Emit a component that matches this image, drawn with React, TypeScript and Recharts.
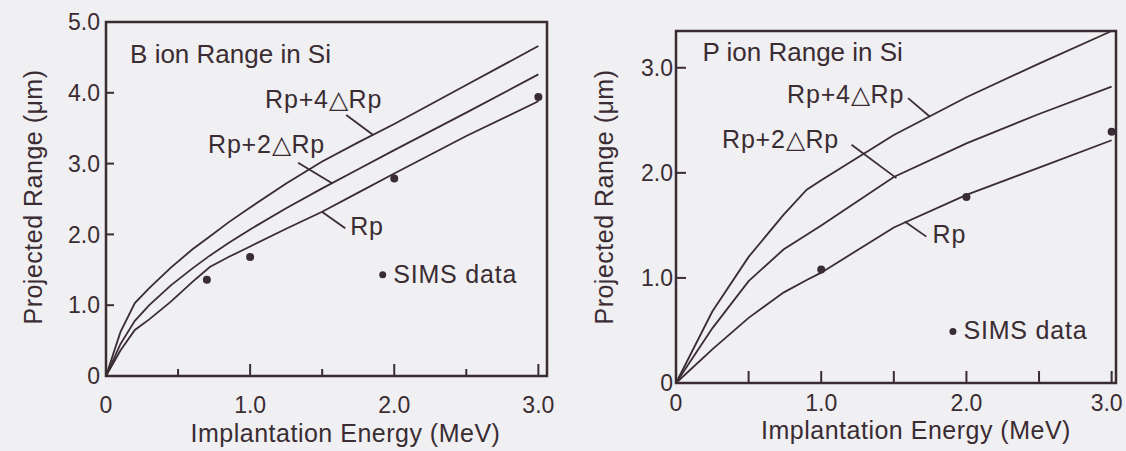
import React from "react";
import {
  ComposedChart,
  Line,
  Scatter,
  XAxis,
  YAxis,
  ReferenceArea,
  ReferenceLine,
  ReferenceDot,
} from "recharts";

const INK = "#3a2c33";
const BG = "#f0eff1";
const FONT = "'Liberation Sans', Arial, Helvetica, sans-serif";

// B ion range in Si
const bEnergy = [0, 0.1, 0.2, 0.3, 0.45, 0.6, 0.72, 0.85, 1.0, 1.25, 1.5, 1.75, 2.0, 2.5, 3.0];
const bRp = [0, 0.36, 0.65, 0.8, 1.05, 1.33, 1.54, 1.68, 1.83, 2.08, 2.32, 2.59, 2.86, 3.39, 3.88];
const bRp2 = [0, 0.45, 0.78, 1.0, 1.28, 1.52, 1.7, 1.88, 2.07, 2.37, 2.65, 2.92, 3.19, 3.72, 4.26];
const bRp4 = [0, 0.62, 1.03, 1.24, 1.53, 1.79, 1.97, 2.17, 2.38, 2.72, 3.03, 3.3, 3.56, 4.11, 4.66];
const bSimsEnergy = [0.7, 1.0, 2.0, 3.0];
const bSimsRange = [1.36, 1.68, 2.79, 3.94];

// P ion range in Si
const pEnergy = [0, 0.25, 0.5, 0.74, 0.9, 1.0, 1.5, 2.0, 2.5, 3.0];
const pRp = [0, 0.32, 0.62, 0.86, 0.98, 1.05, 1.48, 1.79, 2.05, 2.31];
const pRp2 = [0, 0.52, 0.97, 1.27, 1.41, 1.5, 1.96, 2.28, 2.56, 2.82];
const pRp4 = [0, 0.68, 1.2, 1.6, 1.84, 1.93, 2.36, 2.72, 3.04, 3.35];
const pSimsEnergy = [1.0, 2.0, 3.0];
const pSimsRange = [1.08, 1.77, 2.39];

const xTicks = [0, 0.5, 1, 1.5, 2, 2.5, 3];
const bYTicks = [0, 1, 2, 3, 4, 5];
const pYTicks = [0, 1, 2, 3];

const fmt = (v: number) => (v === 0 ? "0" : v.toFixed(1));

const curveRows = (e: number[], rp: number[], rp2: number[], rp4: number[]) =>
  e.map((x, i) => ({ e: x, rp: rp[i], rp2: rp2[i], rp4: rp4[i] }));
const simsRows = (e: number[], r: number[]) => e.map((x, i) => ({ e: x, r: r[i] }));

const makeXTick = (major: number, minor: number, labelDy: number, lastDx: number) => (props: any) => {
  const { x, y, payload } = props;
  const v = payload.value;
  const isMajor = Number.isInteger(v);
  return (
    <g>
      <line x1={x} x2={x} y1={y} y2={y - (isMajor ? major : minor)} stroke={INK} strokeWidth={2} />
      {isMajor && (
        <text
          x={x + (v === 3 ? lastDx : 0)}
          y={y + labelDy}
          textAnchor="middle"
          fontFamily={FONT}
          fontSize={23}
          fill={INK}
        >
          {fmt(v)}
        </text>
      )}
    </g>
  );
};

const makeYTick = (len: number, gap: number) => (props: any) => {
  const { x, y, payload } = props;
  return (
    <g>
      <line x1={x} x2={x + len} y1={y} y2={y} stroke={INK} strokeWidth={2} />
      <text x={x - gap} y={y} dy="0.36em" textAnchor="end" fontFamily={FONT} fontSize={23} fill={INK}>
        {fmt(payload.value)}
      </text>
    </g>
  );
};

const xTitle = (dx: number, dy: number) => (p: any) => {
  const vb = p.viewBox;
  return (
    <text
      x={vb.x + vb.width / 2 + dx}
      y={vb.y + dy}
      textAnchor="middle"
      fontFamily={FONT}
      fontSize={25}
      letterSpacing={0.5}
      fill={INK}
    >
      Implantation Energy (MeV)
    </text>
  );
};

const yTitle = (dx: number, dy: number) => (p: any) => {
  const vb = p.viewBox;
  const cx = vb.x + vb.width + dx;
  const cy = vb.y + vb.height / 2 + dy;
  return (
    <text
      x={cx}
      y={cy}
      transform={`rotate(-90, ${cx}, ${cy})`}
      textAnchor="middle"
      dy="0.36em"
      fontFamily={FONT}
      fontSize={25}
      letterSpacing={0.5}
      fill={INK}
    >
      Projected Range (μm)
    </text>
  );
};

const textShape = (t: string, size: number, spacing: number) => (p: any) => (
  <text x={p.cx} y={p.cy} fontFamily={FONT} fontSize={size} letterSpacing={spacing} fill={INK}>
    {t}
  </text>
);

const dotShape = (p: any) => <circle cx={p.cx} cy={p.cy} r={4} fill={INK} />;

interface Note {
  x: number;
  y: number;
  t: string;
  size: number;
  spacing: number;
}

interface PanelProps {
  rows: { e: number; rp: number; rp2: number; rp4: number }[];
  sims: { e: number; r: number }[];
  xMax: number;
  yMax: number;
  yTicks: number[];
  width: number;
  margin: { top: number; right: number; bottom: number; left: number };
  xTick: (p: any) => React.ReactElement;
  yTick: (p: any) => React.ReactElement;
  xLabel: (p: any) => React.ReactElement;
  yLabel: (p: any) => React.ReactElement;
  texts: Note[];
  leaders: [number, number, number, number][];
  legendDot: { x: number; y: number };
}

const Panel = (p: PanelProps) => (
  <ComposedChart width={p.width} height={451} data={p.rows} margin={p.margin}>
    <XAxis
      dataKey="e"
      type="number"
      domain={[0, p.xMax]}
      ticks={xTicks}
      axisLine={false}
      tickLine={false}
      tickSize={0}
      tickMargin={0}
      height={30}
      tick={p.xTick}
      interval={0}
      label={{ content: p.xLabel }}
    />
    <YAxis
      type="number"
      domain={[0, p.yMax]}
      ticks={p.yTicks}
      axisLine={false}
      tickLine={false}
      tickSize={0}
      tickMargin={0}
      width={40}
      tick={p.yTick}
      interval={0}
      label={{ content: p.yLabel }}
    />
    <ReferenceArea x1={0} x2={p.xMax} y1={0} y2={p.yMax} fill="none" stroke={INK} strokeWidth={2.5} ifOverflow="visible" />
    <Line type="linear" dataKey="rp" stroke={INK} strokeWidth={1.8} dot={false} isAnimationActive={false} />
    <Line type="linear" dataKey="rp2" stroke={INK} strokeWidth={1.8} dot={false} isAnimationActive={false} />
    <Line type="linear" dataKey="rp4" stroke={INK} strokeWidth={1.8} dot={false} isAnimationActive={false} />
    <Scatter data={p.sims} dataKey="r" shape={dotShape} isAnimationActive={false} />
    {p.leaders.map((s, i) => (
      <ReferenceLine
        key={`l${i}`}
        segment={[
          { x: s[0], y: s[1] },
          { x: s[2], y: s[3] },
        ]}
        stroke={INK}
        strokeWidth={1.8}
        ifOverflow="visible"
      />
    ))}
    <ReferenceDot x={p.legendDot.x} y={p.legendDot.y} r={3.5} fill={INK} stroke="none" ifOverflow="visible" />
    {p.texts.map((s, i) => (
      <ReferenceDot key={`t${i}`} x={s.x} y={s.y} r={0} ifOverflow="visible" shape={textShape(s.t, s.size, s.spacing)} />
    ))}
  </ComposedChart>
);

export default function App() {
  return (
    <div style={{ position: "absolute", left: 0, top: 0, width: 1126, height: 451, background: BG, overflow: "hidden" }}>
      <div style={{ position: "absolute", left: 0, top: 0 }}>
        <Panel
          rows={curveRows(bEnergy, bRp, bRp2, bRp4)}
          sims={simsRows(bSimsEnergy, bSimsRange)}
          xMax={3.06}
          yMax={5}
          yTicks={bYTicks}
          width={560}
          margin={{ top: 22, right: 13, bottom: 45, left: 66 }}
          xTick={makeXTick(12, 7, 37, 0)}
          yTick={makeYTick(8, 6)}
          xLabel={xTitle(19, 66)}
          yLabel={yTitle(-73, -2)}
          texts={[
            { x: 0.167, y: 4.42, t: "B ion Range in Si", size: 26, spacing: 0 },
            { x: 1.104, y: 3.78, t: "Rp+4△Rp", size: 25, spacing: 0.8 },
            { x: 0.708, y: 3.154, t: "Rp+2△Rp", size: 25, spacing: 0.8 },
            { x: 1.694, y: 1.99, t: "Rp", size: 25, spacing: 0.8 },
            { x: 1.993, y: 1.31, t: "SIMS data", size: 25, spacing: 0.8 },
          ]}
          leaders={[
            [1.667, 3.686, 1.854, 3.404],
            [1.333, 3.013, 1.569, 2.722],
            [1.498, 2.321, 1.66, 2.086],
          ]}
          legendDot={{ x: 1.92, y: 1.43 }}
        />
      </div>
      <div style={{ position: "absolute", left: 560, top: 0 }}>
        <Panel
          rows={curveRows(pEnergy, pRp, pRp2, pRp4)}
          sims={simsRows(pSimsEnergy, pSimsRange)}
          xMax={3.03}
          yMax={3.35}
          yTicks={pYTicks}
          width={566}
          margin={{ top: 31, right: 10, bottom: 38, left: 76 }}
          xTick={makeXTick(12, 12, 28, -5)}
          yTick={makeYTick(10, 3)}
          xLabel={xTitle(20, 56)}
          yLabel={yTitle(-72, -10)}
          texts={[
            { x: 0.182, y: 3.06, t: "P ion Range in Si", size: 26, spacing: 0 },
            { x: 0.765, y: 2.664, t: "Rp+4△Rp", size: 25, spacing: 0.8 },
            { x: 0.317, y: 2.235, t: "Rp+2△Rp", size: 25, spacing: 0.8 },
            { x: 1.767, y: 1.33, t: "Rp", size: 25, spacing: 0.8 },
            { x: 1.98, y: 0.416, t: "SIMS data", size: 25, spacing: 0.8 },
          ]}
          leaders={[
            [1.598, 2.711, 1.747, 2.536],
            [1.209, 2.267, 1.518, 1.95],
            [1.575, 1.536, 1.724, 1.393],
          ]}
          legendDot={{ x: 1.907, y: 0.49 }}
        />
      </div>
    </div>
  );
}
